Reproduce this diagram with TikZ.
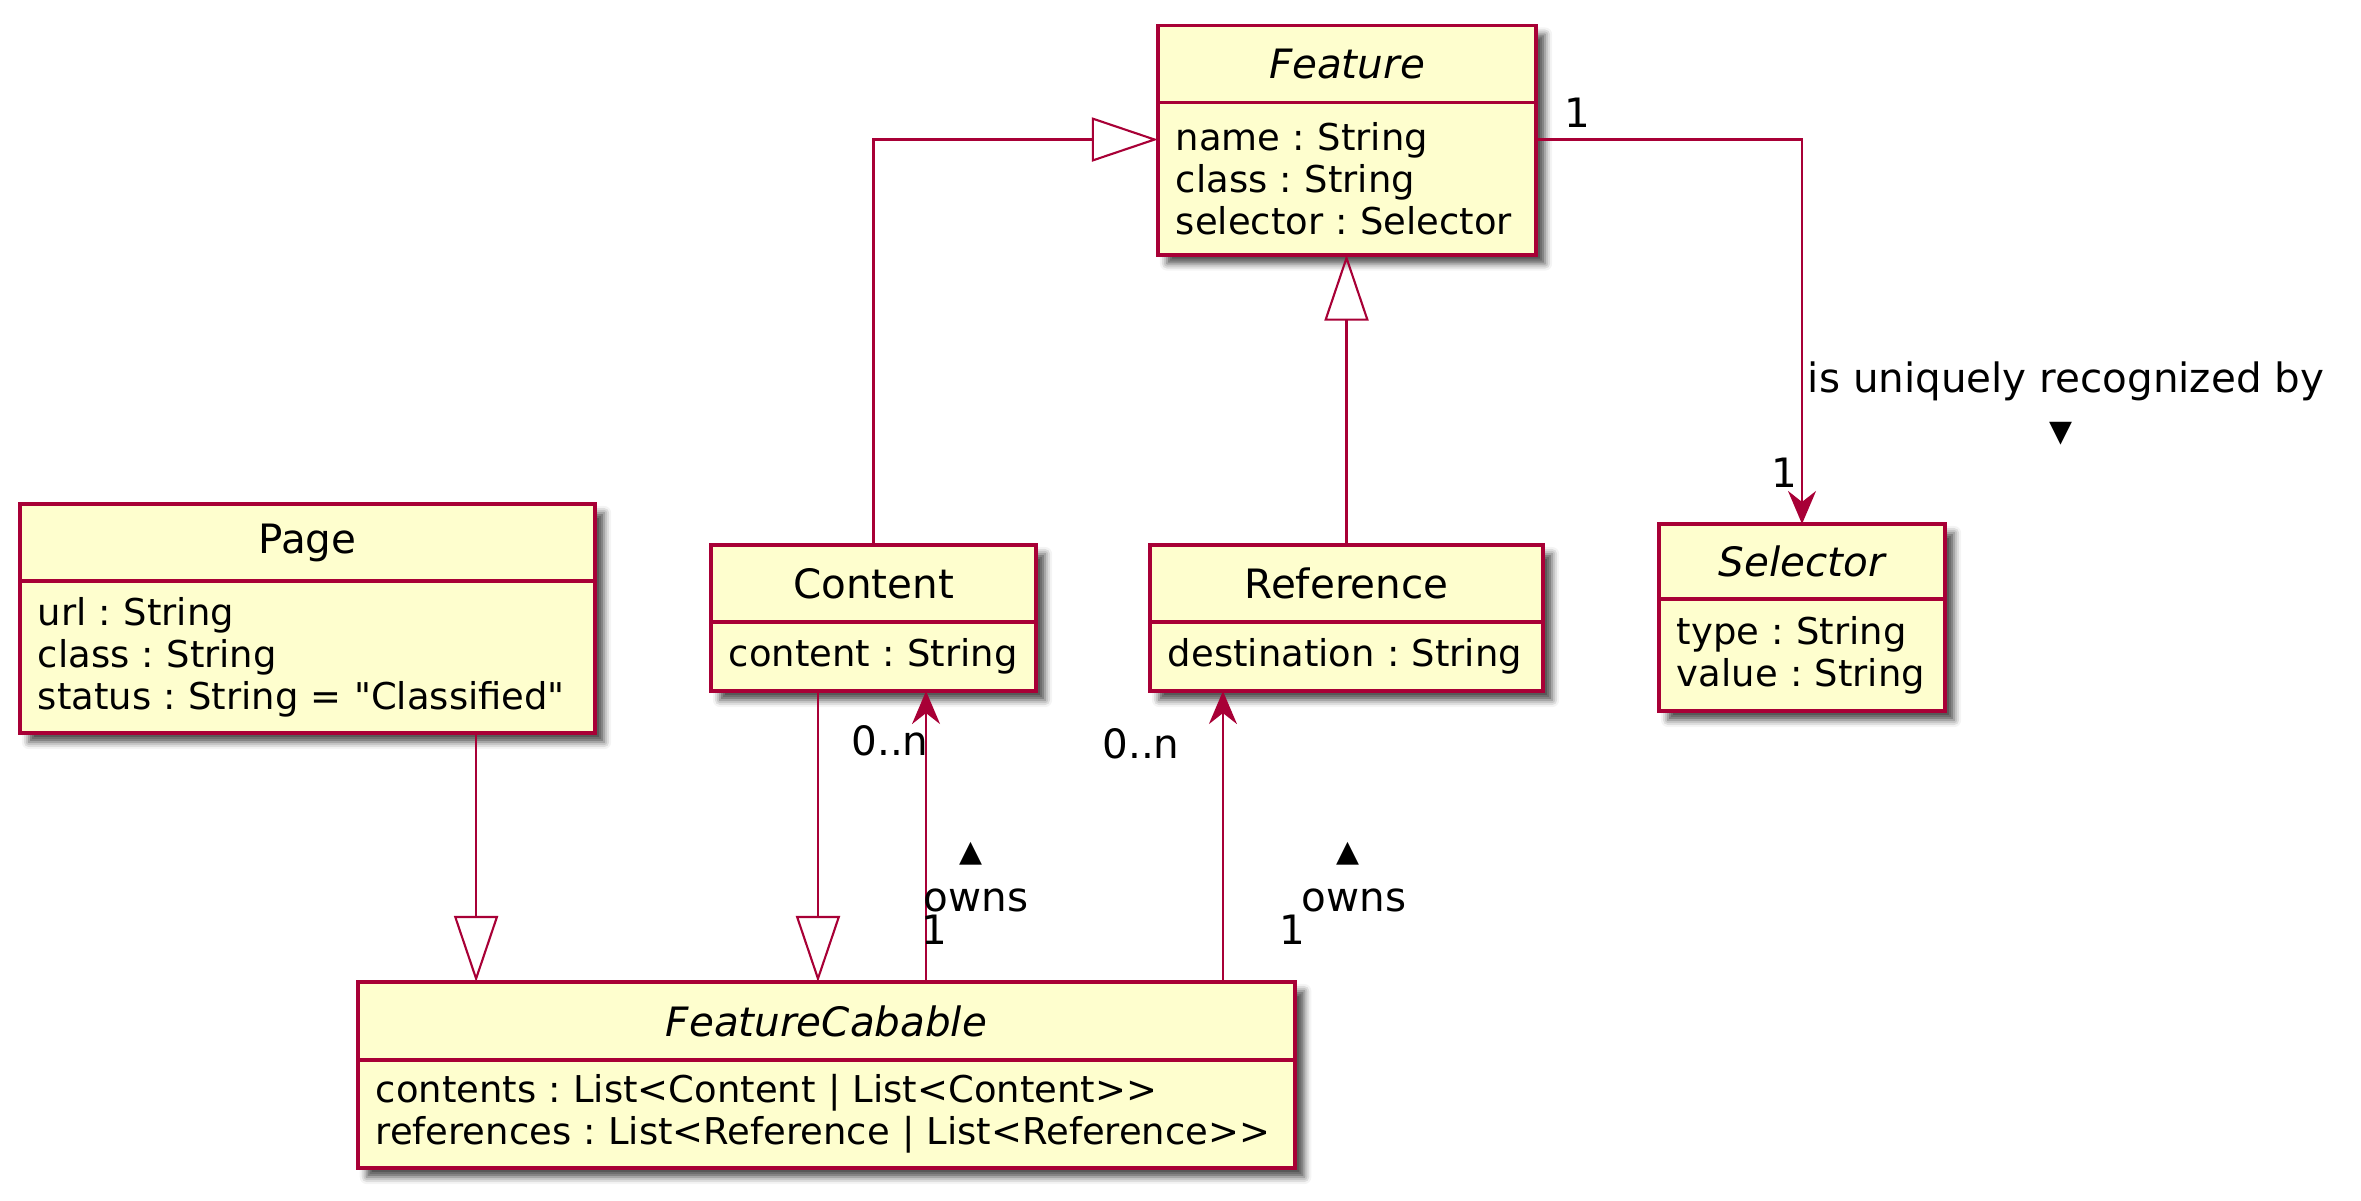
\documentclass[tikz,border=0pt]{standalone}
\usepackage{fontspec}
\setmainfont{DejaVu Sans}[Ligatures=TeXOff]
\usetikzlibrary{positioning,arrows.meta,shadows.blur,fit,backgrounds}
\definecolor{umlred}{HTML}{A80036}
\definecolor{umlfill}{HTML}{FEFECE}
\frenchspacing
\hyphenpenalty=10000

\begin{document}
\begin{tikzpicture}[x=0.01cm, y=-0.01cm,
  clsshadow/.style={inner sep=0pt, outer sep=0pt, blur shadow={shadow xshift=0.09cm, shadow yshift=-0.09cm, shadow blur radius=0.07cm, shadow opacity=70}},
  clshead/.style={draw=umlred, fill=umlfill, line width=1.1pt, outer sep=0pt, inner sep=0pt, minimum height=0.77cm, font=\fontsize{11.5}{13.8}\selectfont},
  clsbody/.style={draw=umlred, fill=umlfill, line width=1.1pt, outer sep=0pt, inner xsep=0.18cm, inner ysep=0pt, align=left, font=\fontsize{10.5}{11.95}\selectfont},
  genarrow/.style={draw=umlred, line width=0.6pt, -{Triangle[open, length=0.66cm, width=0.44cm]}},
  assocarrow/.style={draw=umlred, line width=0.6pt, -{Stealth[length=0.33cm, width=0.28cm, inset=0.11cm]}},
  lbl/.style={font=\fontsize{11.5}{13.8}\selectfont, inner sep=0pt},
  dirmark/.style={font=\fontsize{8.5}{10}\selectfont, inner sep=0pt},
]
\useasboundingbox (0,0) rectangle (2361,1201);

% classes
\node[clshead, minimum width=3.78cm] (feath) at (1347,64) {\itshape Feature};
\node[clsbody, below=0pt of feath, text width=3.42cm, minimum height=1.52cm] (featb) {name : String\\ class : String\\ selector : Selector};

\node[clshead, minimum width=2.86cm, minimum height=0.75cm] (selh) at (1802,561.5) {\itshape Selector};
\node[clsbody, below=0pt of selh, text width=2.50cm, minimum height=1.12cm] (selb) {type : String\\ value : String};

\node[clshead, minimum width=5.75cm] (pageh) at (307.5,542.5) {Page};
\node[clsbody, below=0pt of pageh, text width=5.39cm, minimum height=1.52cm] (pageb) {url : String\\ class : String\\ status : String = "Classified"};

\node[clshead, minimum width=3.25cm] (conth) at (873.5,583.5) {Content};
\node[clsbody, below=0pt of conth, text width=2.89cm, minimum height=0.69cm] (contb) {content : String};

\node[clshead, minimum width=3.93cm] (refh) at (1346.5,583.5) {Reference};
\node[clsbody, below=0pt of refh, text width=3.57cm, minimum height=0.69cm] (refb) {destination : String};

\node[clshead, minimum width=9.37cm, minimum height=0.78cm] (fcabh) at (826.5,1021) {\itshape FeatureCabable};
\node[clsbody, below=0pt of fcabh, text width=9.01cm, minimum height=1.08cm] (fcabb) {contents : List<Content | List<Content>{}>\\ references : List<Reference | List<Reference>{}>};

% shadows behind each class
\begin{scope}[on background layer]
\node[clsshadow, fit=(feath)(featb)] (featsh) {};
\node[clsshadow, fit=(selh)(selb)] (selsh) {};
\node[clsshadow, fit=(pageh)(pageb)] (pagesh) {};
\node[clsshadow, fit=(conth)(contb)] (contsh) {};
\node[clsshadow, fit=(refh)(refb)] (refsh) {};
\node[clsshadow, fit=(fcabh)(fcabb)] (fcabsh) {};
\end{scope}

% connector ends
\coordinate (featin)  at ([yshift=-0.37cm]featb.north west);
\coordinate (featout) at ([yshift=-0.37cm]featb.north east);
\coordinate (pageout) at ([xshift=1.685cm]pageb.south);
\coordinate (contout) at ([xshift=-0.555cm]contb.south);
\coordinate (contin)  at ([xshift=0.525cm]contb.south);
\coordinate (refin)   at ([xshift=-1.235cm]refb.south);

% generalizations
\draw[genarrow] (conth.north) |- (featin);
\draw[genarrow] (refh.north) -- (refh.north |- featb.south);
\draw[genarrow] (pageout) -- (pageout |- fcabh.north);
\draw[genarrow] (contout) -- (contout |- fcabh.north);

% associations
\draw[assocarrow] (featout) -| (selh.north);
\draw[assocarrow] (contin |- fcabh.north) -- (contin);
\draw[assocarrow] (refin |- fcabh.north) -- (refin);

% labels
\node[lbl] (m1) at (1577,113) {1};
\node[lbl] (m2) at (1784,473) {1};
\node[lbl] (recog) at (2066,381) {is uniquely recognized by};
\node[dirmark] (recogdir) at (2061,434) {▼};

\node[lbl] (m3) at (890,741) {0..n};
\node[lbl] (m4) at (934,930) {1};
\node[dirmark] (owns1dir) at (971,854) {▲};
\node[lbl] (owns1) at (976,900) {owns};

\node[lbl] (m5) at (1141,744) {0..n};
\node[lbl] (m6) at (1292,930) {1};
\node[dirmark] (owns2dir) at (1348,854) {▲};
\node[lbl] (owns2) at (1354,900) {owns};
\end{tikzpicture}
\end{document}
